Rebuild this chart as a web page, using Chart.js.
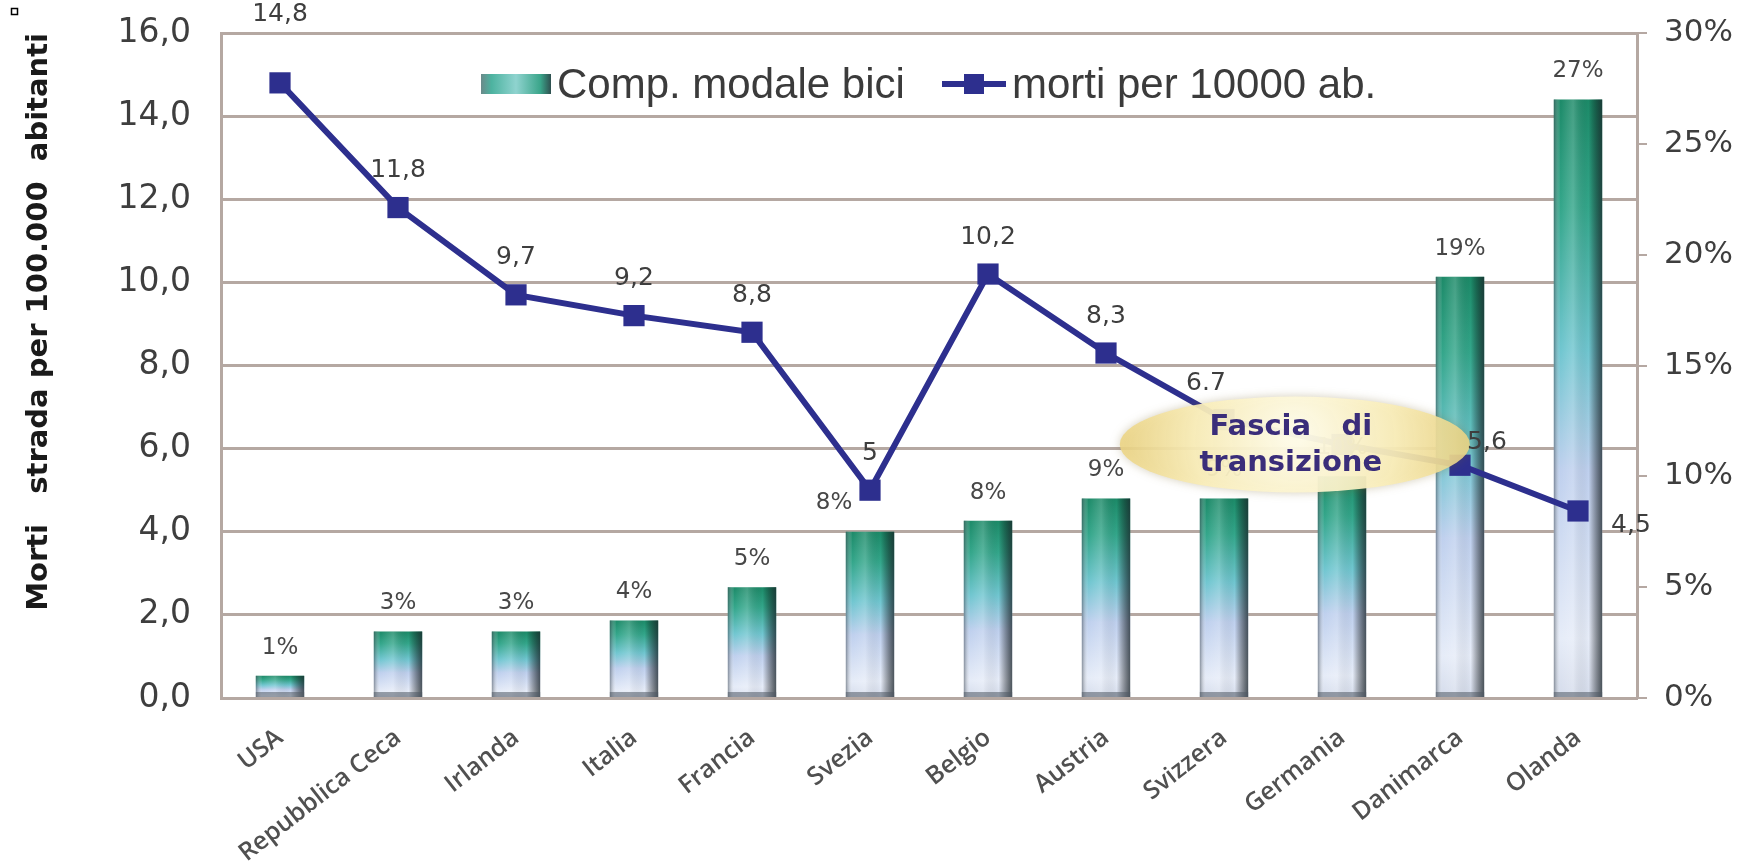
<!DOCTYPE html>
<html><head><meta charset="utf-8">
<script src="https://cdn.jsdelivr.net/npm/chart.js@4.4.1/dist/chart.umd.min.js"></script>
<style>html,body{margin:0;padding:0;background:#fff;}</style>
</head><body>
<canvas id="c" width="1752" height="863"></canvas>
<script>
// ---- data ----
const countries = ['USA','Repubblica Ceca','Irlanda','Italia','Francia','Svezia','Belgio','Austria','Svizzera','Germania','Danimarca','Olanda'];
const bikeShare = [1, 3, 3, 3.5, 5, 7.5, 8, 9, 9, 10, 19, 27];
const bikeShareLabels = ['1%','3%','3%','4%','5%','8%','8%','9%','9%','10%','19%','27%'];
const deaths = [14.8, 11.8, 9.7, 9.2, 8.8, 5, 10.2, 8.3, 6.7, 6.1, 5.6, 4.5];
const deathLabels = ['14,8','11,8','9,7','9,2','8,8','5','10,2','8,3','6.7','','5,6','4,5'];
const seriesNames = ['Comp. modale bici', 'morti per 10000 ab.'];
const yTitle = 'Morti   strada per 100.000  abitanti';
const noteText = ['Fascia   di', 'transizione'];
const leftMax = 16, leftStep = 2, rightMax = 30, rightStep = 5;

// ---- styles ----
const GRID = '#b5a8a2';
const LINE = '#2d2f8e';
const TXT = '#3e3e3e';

function barGradient(ctx, top, base) {
  const g = ctx.createLinearGradient(0, top, 0, base);
  g.addColorStop(0, '#1c8a68');
  g.addColorStop(0.18, '#33a68a');
  g.addColorStop(0.42, '#70c6d0');
  g.addColorStop(0.62, '#bfd0ee');
  g.addColorStop(0.9, '#e6ecf8');
  g.addColorStop(1, '#d5dceb');
  return g;
}

const lineLabelOffsets = {0: [0, -68], 8: [-18, -36], 10: [27, -23], 11: [53, 15]};
const barLabelOffsets = {5: [-36, -29]};

const overlay = {
  id: 'overlay',
  afterDatasetDraw(chart, args) {
    if (args.index !== 0) return;
    const ctx = chart.ctx;
    args.meta.data.forEach(bar => {
      const {x, y, base, width} = bar.getProps(['x', 'y', 'base', 'width'], true);
      const l = x - width / 2;
      const g = ctx.createLinearGradient(l, 0, l + width, 0);
      g.addColorStop(0, 'rgba(60,70,80,0.55)');
      g.addColorStop(0.14, 'rgba(255,255,255,0)');
      g.addColorStop(0.4, 'rgba(255,255,255,0.18)');
      g.addColorStop(0.72, 'rgba(0,0,0,0)');
      g.addColorStop(1, 'rgba(25,35,40,0.75)');
      ctx.save();
      ctx.fillStyle = g;
      ctx.fillRect(l, y, width, base - y);
      ctx.fillStyle = 'rgba(80,90,100,0.55)';
      ctx.fillRect(l, base - 5, width, 5);
      ctx.restore();
    });
  },
  afterDatasetsDraw(chart) {
    const ctx = chart.ctx;
    const xs = chart.scales.x, yl = chart.scales.y;
    // bar labels
    ctx.save();
    ctx.font = '23px "DejaVu Sans"';
    ctx.fillStyle = '#474747';
    ctx.textAlign = 'center';
    ctx.textBaseline = 'middle';
    chart.getDatasetMeta(0).data.forEach((bar, i) => {
      const o = barLabelOffsets[i] || [0, -28];
      ctx.fillText(bikeShareLabels[i], bar.x + o[0], bar.y + o[1]);
    });
    ctx.restore();

    // transition ellipse
    const cx = xs.getPixelForValue(8.6), cy = yl.getPixelForValue(6.1);
    const rx = 175, ry = 48;
    ctx.save();
    ctx.shadowColor = 'rgba(120,100,40,0.35)';
    ctx.shadowBlur = 10;
    ctx.beginPath();
    ctx.ellipse(cx, cy, rx, ry, 0, 0, Math.PI * 2);
    const rg = ctx.createRadialGradient(cx, cy - 10, 10, cx, cy, rx);
    rg.addColorStop(0, 'rgba(255,252,232,0.95)');
    rg.addColorStop(0.55, 'rgba(250,238,185,0.92)');
    rg.addColorStop(1, 'rgba(236,212,130,0.88)');
    ctx.fillStyle = rg;
    ctx.fill();
    ctx.restore();
    ctx.save();
    ctx.font = 'bold 29px "DejaVu Sans"';
    ctx.fillStyle = '#3a2d7a';
    ctx.textAlign = 'center';
    ctx.textBaseline = 'middle';
    ctx.fillText(noteText[0], cx - 4, cy - 17);
    ctx.fillText(noteText[1], cx - 4, cy + 19);
    ctx.restore();

    // line labels
    ctx.save();
    ctx.font = '25px "DejaVu Sans"';
    ctx.fillStyle = '#3e3e3e';
    ctx.textAlign = 'center';
    ctx.textBaseline = 'middle';
    chart.getDatasetMeta(1).data.forEach((pt, i) => {
      if (!deathLabels[i]) return;
      const o = lineLabelOffsets[i] || [0, -37];
      ctx.fillText(deathLabels[i], pt.x + o[0], pt.y + o[1]);
    });
    ctx.restore();
  },
  afterDraw(chart) {
    const ctx = chart.ctx;
    const a = chart.chartArea;
    // legend
    ctx.save();
    const ly = 84;
    const sx = a.left + 260;
    const sg = ctx.createLinearGradient(sx, 0, sx + 70, 0);
    sg.addColorStop(0, '#6a8a8a'); sg.addColorStop(0.15, '#4db3a0');
    sg.addColorStop(0.5, '#8fd3cf'); sg.addColorStop(0.85, '#3aa58a'); sg.addColorStop(1, '#2f4f4f');
    ctx.fillStyle = sg;
    ctx.fillRect(sx, ly - 10, 70, 20);
    ctx.font = '42px "Liberation Sans"';
    ctx.fillStyle = '#3b3b3b';
    ctx.textBaseline = 'middle';
    ctx.textAlign = 'left';
    ctx.fillText(seriesNames[0], sx + 76, ly + 2);
    const lx = sx + 461;
    ctx.strokeStyle = LINE; ctx.lineWidth = 6;
    ctx.beginPath(); ctx.moveTo(lx, ly); ctx.lineTo(lx + 64, ly); ctx.stroke();
    ctx.fillStyle = LINE;
    ctx.fillRect(lx + 22, ly - 10, 20, 20);
    ctx.fillStyle = '#3b3b3b';
    ctx.fillText(seriesNames[1], lx + 70, ly + 2);
    // tiny marker box top-left
    ctx.strokeStyle = '#000'; ctx.lineWidth = 1.5;
    ctx.strokeRect(11.5, 8.5, 6, 6);
    ctx.restore();
  }
};

new Chart(document.getElementById('c'), {
  data: {
    labels: countries,
    datasets: [
      {
        type: 'bar',
        label: seriesNames[0],
        data: bikeShare,
        yAxisID: 'y1',
        order: 1,
        barPercentage: 0.41,
        categoryPercentage: 1,
        borderSkipped: false,
        borderWidth: 0,
        backgroundColor: (c) => {
          const ch = c.chart;
          if (!ch.chartArea || c.type !== 'data') return '#3aa68a';
          const s = ch.scales.y1;
          return barGradient(ch.ctx, s.getPixelForValue(c.raw), s.getPixelForValue(0));
        }
      },
      {
        type: 'line',
        label: seriesNames[1],
        data: deaths,
        yAxisID: 'y',
        order: 0,
        borderColor: LINE,
        backgroundColor: LINE,
        borderWidth: 6,
        pointStyle: 'rect',
        pointRadius: 15,
        pointBackgroundColor: LINE,
        pointBorderWidth: 0,
        tension: 0
      }
    ]
  },
  options: {
    responsive: false,
    animation: false,
    layout: {padding: {top: 33, left: 0, right: 0, bottom: 0}},
    plugins: {legend: {display: false}, tooltip: {enabled: false}},
    scales: {
      x: {
        offset: true,
        grid: {display: false},
        border: {display: true, color: GRID, width: 3},
        ticks: {
          color: '#505050',
          font: {family: 'Open Sans', size: 25, weight: '600'},
          minRotation: 38, maxRotation: 38,
          padding: 17, autoSkip: false
        },
        afterFit: (s) => { s.height = 165; s.paddingLeft = 0; s.paddingRight = 0; }
      },
      y: {
        position: 'left',
        min: 0, max: leftMax,
        ticks: {
          stepSize: leftStep,
          color: TXT,
          font: {family: 'DejaVu Sans', size: 33},
          padding: 30,
          callback: (v) => v.toFixed(1).replace('.', ',')
        },
        grid: {color: GRID, lineWidth: 3, drawTicks: false},
        border: {display: true, color: GRID, width: 3},
        title: {
          display: true, text: yTitle, align: 'end',
          color: '#1a1a1a',
          font: {family: 'DejaVu Sans', size: 29, weight: 'bold'},
          padding: {top: 22, bottom: 0}
        },
        afterFit: (s) => { s.width = 221; s.paddingTop = 0; s.paddingBottom = 0; }
      },
      y1: {
        position: 'right',
        min: 0, max: rightMax,
        ticks: {
          stepSize: rightStep,
          color: TXT,
          font: {family: 'DejaVu Sans', size: 31},
          padding: 17,
          callback: (v) => v + '%'
        },
        grid: {drawOnChartArea: false, drawTicks: true, tickLength: 10, color: GRID, lineWidth: 2},
        border: {display: true, color: GRID, width: 3},
        afterFit: (s) => { s.width = 115; s.paddingTop = 0; s.paddingBottom = 0; }
      }
    }
  },
  plugins: [overlay]
});
</script>
</body></html>
